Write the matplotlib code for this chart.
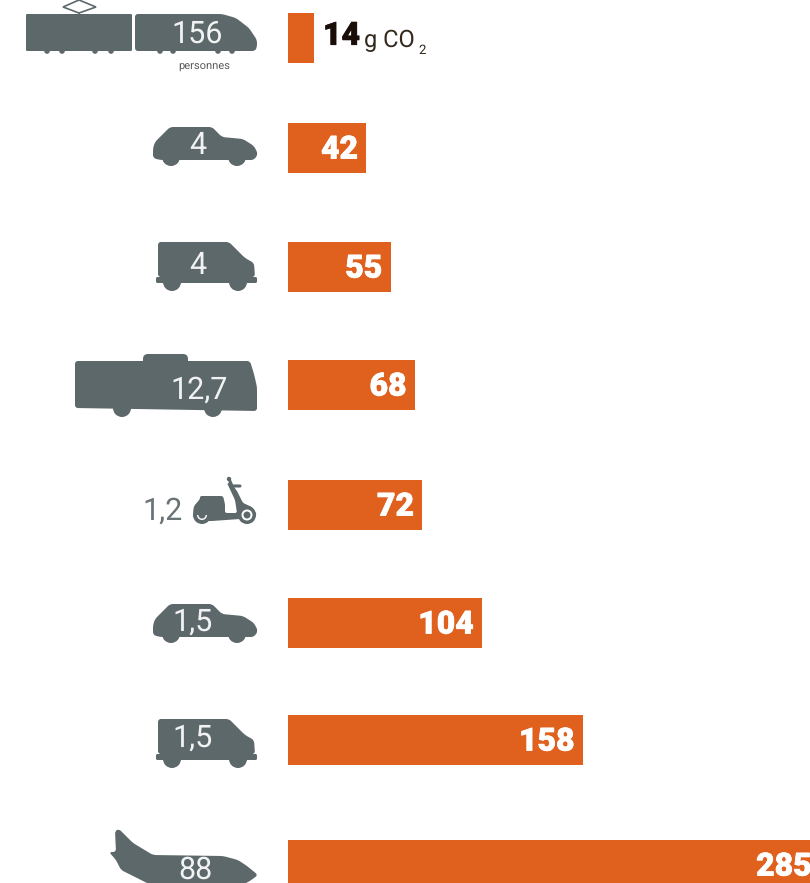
import matplotlib
matplotlib.use('Agg')
import matplotlib.pyplot as plt
import matplotlib.patheffects as pe
from matplotlib.patches import Polygon, Circle, PathPatch, Wedge
from matplotlib.path import Path

# Emissions par personne et par km
valeurs = [14, 42, 55, 68, 72, 104, 158, 285]
passagers = ['156', '4', '4', '12,7', '1,2', '1,5', '1,5', '88']

# centres des barres et place des chiffres, en pixels
centres_y = [38, 148, 267, 385, 505, 623, 740, 865]
pass_x = [197, 198, 198, 199, 163, 193, 193, 195]
pass_y = [34, 146, 266, 390, 511, 622, 738, 870]

ORANGE = '#e0601e'
GRIS = '#5d686b'
PX_PAR_G = 1.867
X0 = 288

plt.rcParams['font.family'] = ['Roboto', 'DejaVu Sans']
plt.rcParams['text.hinting'] = 'none'

fig = plt.figure(figsize=(8.1, 8.83), dpi=100)

# axe des barres : x en g de CO2
ax = fig.add_axes([0, 0, 1, 1])
ax.set_xlim(-X0 / PX_PAR_G, (810 - X0) / PX_PAR_G)
ax.set_ylim(883, 0)
ax.axis('off')
ax.barh(centres_y, valeurs, height=50, color=ORANGE)

gras_blanc = [pe.withStroke(linewidth=0.5, foreground='white')]
for v, y in zip(valeurs[1:], centres_y[1:]):
    ax.annotate(str(v), (v, y), xytext=(-6, 1), textcoords='offset points',
                ha='right', va='center_baseline', color='white',
                fontsize=23, fontweight='black', annotation_clip=False,
                path_effects=gras_blanc)

# axe des pictos : x et y en pixels
ic = fig.add_axes([0, 0, 1, 1])
ic.set_xlim(0, 810)
ic.set_ylim(883, 0)
ic.axis('off')
ic.patch.set_alpha(0)


def forme(pts, r=3):
    # polygone aux coins arrondis
    n = len(pts)
    verts, codes = [], []
    for i in range(n):
        px, py = pts[i - 1]
        x, y = pts[i]
        sx, sy = pts[(i + 1) % n]
        d1 = max(((px - x) ** 2 + (py - y) ** 2) ** 0.5, 0.01)
        d2 = max(((sx - x) ** 2 + (sy - y) ** 2) ** 0.5, 0.01)
        r1 = min(r, d1 / 2)
        r2 = min(r, d2 / 2)
        a = (x + (px - x) * r1 / d1, y + (py - y) * r1 / d1)
        b = (x + (sx - x) * r2 / d2, y + (sy - y) * r2 / d2)
        verts += [a, (x, y), b]
        codes += [Path.MOVETO if i == 0 else Path.LINETO, Path.CURVE3, Path.CURVE3]
    verts.append(verts[0])
    codes.append(Path.CLOSEPOLY)
    ic.add_patch(PathPatch(Path(verts, codes), fc=GRIS, ec='none'))


def roues(liste, r):
    for x, y in liste:
        ic.add_patch(Circle((x, y), r, fc=GRIS, ec='none'))


def voiture(dy):
    forme([(153, 158 + dy), (153, 148 + dy), (155, 142 + dy), (170, 127 + dy), (212, 127 + dy),
           (222, 137 + dy), (243, 139 + dy), (254, 146 + dy), (258, 154 + dy), (254, 160 + dy),
           (160, 160 + dy)], r=3)
    roues([(171, 157 + dy), (237, 157 + dy)], 9)


def camionnette(dy):
    forme([(158, 242 + dy), (229, 242 + dy), (245, 258 + dy), (254, 263 + dy), (255, 277 + dy),
           (158, 277 + dy)], r=3)
    forme([(156, 277 + dy), (257, 277 + dy), (257, 283 + dy), (156, 283 + dy)], r=1.5)
    roues([(172, 282 + dy), (238, 282 + dy)], 9)


# train
forme([(26, 14), (132, 14), (132, 51), (26, 51)], r=1.2)
forme([(135, 14), (222, 14), (236, 18), (249, 28), (257, 40), (257, 47), (255, 51), (135, 51)], r=3)
roues([(47, 51), (62, 51), (95, 51), (111, 51), (160, 51), (173, 51), (218, 51), (232, 51)], 2.8)
ic.add_patch(Polygon([(63, 7), (79, 0), (96, 7), (79, 13)], closed=True, fc='white', ec=GRIS, lw=1.2))
ic.plot([79, 79], [13, 15], color=GRIS, lw=1.2)

voiture(0)
camionnette(0)

# camping-car
forme([(75, 361), (250, 361), (254, 374), (257, 387), (257, 411), (75, 408)], r=3)
forme([(143, 366), (143, 354), (188, 354), (188, 366)], r=5)
roues([(122, 408), (213, 408)], 9)

# scooter
forme([(193, 512), (194, 506), (200, 499), (200, 496), (223, 496), (225, 504), (225, 513),
       (237, 513), (235, 500), (227, 483), (231, 483), (237, 491), (243, 503), (252, 507),
       (257, 515), (240, 519), (212, 521), (196, 521)], r=2)
ic.plot([229, 232, 240], [479, 486, 486], color=GRIS, lw=2.2, solid_capstyle='round')
ic.add_patch(Circle((229, 479), 2.2, fc=GRIS, ec='none'))
roues([(202, 515), (247, 515)], 9)
ic.add_patch(Wedge((202, 515), 5, 0, 180, width=1.4, fc='white', ec='none'))
ic.add_patch(Circle((247, 515), 5.5, fc='white', ec='none'))
ic.add_patch(Circle((247, 515), 3.5, fc=GRIS, ec='none'))

voiture(477)
camionnette(477)

# avion
forme([(115, 831), (119, 829), (133, 843), (153, 855), (223, 856), (238, 860), (247, 866),
       (258, 875), (250, 881), (240, 886), (153, 886), (121, 870), (116, 860), (109, 852), (116, 852)], r=3)

# nombre de personnes
for t, x, y in zip(passagers, pass_x, pass_y):
    couleur = GRIS if t == '1,2' else 'white'
    ic.text(x, y, t, ha='center', va='center', color=couleur, fontsize=22, fontweight='normal',
            alpha=0.92)

ic.text(204, 67, 'personnes', ha='center', va='center', color='#5a5a58', fontsize=8)

# etiquette de la premiere barre
ic.text(323, 36, str(valeurs[0]), ha='left', va='center', color='#1a0f08', fontsize=23,
        fontweight='black', path_effects=[pe.withStroke(linewidth=0.5, foreground='#1a0f08')])
ic.text(364, 41, 'g CO', ha='left', va='center', color='#33291f', fontsize=17)
ic.text(418, 50, '2', ha='left', va='center', color='#33291f', fontsize=9.5)

fig.savefig('out.png', dpi=100)
